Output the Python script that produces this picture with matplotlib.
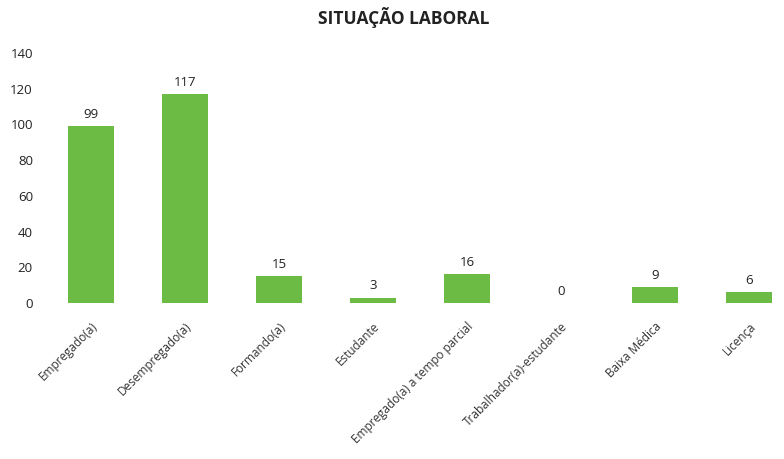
import matplotlib
matplotlib.use("Agg")
import matplotlib.pyplot as plt

categories = ["Empregado(a)", "Desempregado(a)", "Formando(a)", "Estudante",
              "Empregado(a) a tempo parcial", "Trabalhador(a)-estudante",
              "Baixa Médica", "Licença"]
values = [99, 117, 15, 3, 16, 0, 9, 6]
yticks = [0, 20, 40, 60, 80, 100, 120, 140]
title = "SITUAÇÃO LABORAL"

plt.rcParams['font.family'] = ['Open Sans', 'DejaVu Sans']

fig = plt.figure(figsize=(7.84, 4.59), dpi=100)
ax = fig.add_axes([44/784, 156/459, 740/784, 250/459])
x = list(range(len(categories)))
bars = ax.bar(x, values, width=0.49, color="#6cbb45", linewidth=0)
for xi, v in zip(x, values):
    ax.text(xi, v + 3, str(v), ha="center", va="bottom", fontsize=9.5, color="#222222")

ax.set_xlim(-0.5, 7.37)
ax.set_ylim(0, 140)
ax.set_yticks(yticks)
ax.set_yticklabels([str(t) for t in yticks], fontsize=9.5, color="#222222")
ax.set_xticks(x)
ax.set_xticklabels(categories, rotation=45, ha="right", rotation_mode="anchor",
                   fontsize=8.5, color="#333333")
ax.tick_params(axis="both", length=0)
ax.tick_params(axis="y", pad=8)
ax.tick_params(axis="x", pad=12)
for s in ax.spines.values():
    s.set_visible(False)

fig.text(404/784, 1 - 18/459, title, ha="center", va="center",
         fontsize=12.5, fontweight="bold", color="#222222")

fig.savefig("out.png", dpi=100)
